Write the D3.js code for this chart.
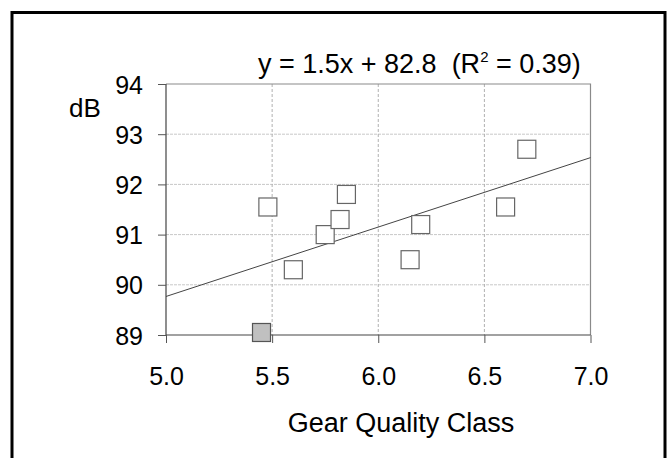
<!DOCTYPE html>
<html>
<head>
<meta charset="utf-8">
<script src="https://cdn.jsdelivr.net/npm/d3@7"></script>
<style>
  body { margin: 0; background: #fff; }
  text { font-family: "Liberation Sans", Arial, sans-serif; fill: #000; }
</style>
</head>
<body>
<div id="chart"></div>
<script>
// data
var gearClass = [5.48, 5.60, 5.75, 5.82, 5.85, 6.15, 6.20, 6.60, 6.70];
var noiseDb   = [91.55, 90.3, 91.0, 91.3, 91.8, 90.5, 91.2, 91.55, 92.7];
// the grey (highlighted) point
var greyClass = [5.45];
var greyDb    = [89.05];
var xTicks = [5.0, 5.5, 6.0, 6.5, 7.0];
var yTicks = [89, 90, 91, 92, 93, 94];
var fitLabel = "y = 1.5x + 82.8  (R";
var fitLabel2 = " = 0.39)";

var width = 670, height = 458;
var plot = { left: 166, right: 590.5, top: 84, bottom: 335 };

var svg = d3.select("#chart").append("svg")
    .attr("width", width)
    .attr("height", height);

// outer frame
svg.append("rect")
    .attr("x", 12).attr("y", 12.5)
    .attr("width", 653).attr("height", 452)
    .attr("fill", "none")
    .attr("stroke", "#000")
    .attr("stroke-width", 3);

var x = d3.scaleLinear().domain([5, 7]).range([plot.left, plot.right]);
var y = d3.scaleLinear().domain([89, 94]).range([plot.bottom, plot.top]);

// gridlines
svg.append("g").selectAll("line")
    .data(yTicks.filter(function(d) { return d > 89 && d < 94; }))
  .enter().append("line")
    .attr("x1", plot.left).attr("x2", plot.right)
    .attr("y1", function(d) { return y(d); })
    .attr("y2", function(d) { return y(d); })
    .attr("stroke", "#c8c8c8")
    .attr("stroke-dasharray", "3,1");

svg.append("g").selectAll("line")
    .data(xTicks.filter(function(d) { return d > 5 && d < 7; }))
  .enter().append("line")
    .attr("x1", function(d) { return x(d); })
    .attr("x2", function(d) { return x(d); })
    .attr("y1", plot.top).attr("y2", plot.bottom)
    .attr("stroke", "#b0b0b0")
    .attr("stroke-dasharray", "3,2");

// plot area border (top + right)
svg.append("path")
    .attr("d", "M" + plot.left + "," + plot.top + "H" + plot.right + "V" + plot.bottom)
    .attr("fill", "none")
    .attr("stroke", "#8a8a8a")
    .attr("stroke-width", 1.2);

// axes
var yAxis = d3.axisLeft(y).tickValues(yTicks).tickSize(8).tickPadding(15)
    .tickFormat(d3.format("d"));
var xAxis = d3.axisBottom(x).tickValues(xTicks).tickSize(8).tickPadding(24)
    .tickFormat(d3.format(".1f"));

var gy = svg.append("g")
    .attr("transform", "translate(" + plot.left + ",0)")
    .call(yAxis);
var gx = svg.append("g")
    .attr("transform", "translate(0," + plot.bottom + ")")
    .call(xAxis);

[gx, gy].forEach(function(g) {
    g.select(".domain").attr("stroke", "#444").attr("stroke-width", 1.2);
    g.selectAll(".tick line").attr("stroke", "#555");
    g.selectAll(".tick text")
        .style("font-size", "25px")
        .attr("fill", "#000");
});
gy.select(".domain").attr("d", "M0," + plot.top + "V" + plot.bottom);
gx.select(".domain").attr("d", "M" + plot.left + ",0H" + plot.right);
gy.selectAll(".tick text").attr("dy", "0.36em");

// least squares fit through all points
var allX = gearClass.concat(greyClass), allY = noiseDb.concat(greyDb);
var mx = d3.mean(allX), my = d3.mean(allY);
var sxy = d3.sum(allX, function(d, i) { return (d - mx) * (allY[i] - my); });
var sxx = d3.sum(allX, function(d) { return (d - mx) * (d - mx); });
var slope = sxy / sxx, intercept = my - slope * mx;

svg.append("line")
    .attr("x1", x(5)).attr("y1", y(intercept + slope * 5))
    .attr("x2", x(7)).attr("y2", y(intercept + slope * 7))
    .attr("stroke", "#444")
    .attr("stroke-width", 1);

// markers
var size = 18;
svg.append("g").selectAll("rect")
    .data(gearClass)
  .enter().append("rect")
    .attr("x", function(d) { return x(d) - size / 2; })
    .attr("y", function(d, i) { return y(noiseDb[i]) - size / 2; })
    .attr("width", size).attr("height", size)
    .attr("fill", "#fff")
    .attr("stroke", "#666")
    .attr("stroke-width", 1.2);

svg.append("g").selectAll("rect")
    .data(greyClass)
  .enter().append("rect")
    .attr("x", function(d) { return x(d) - size / 2; })
    .attr("y", function(d, i) { return y(greyDb[i]) - size / 2; })
    .attr("width", size).attr("height", size)
    .attr("fill", "#c0c0c0")
    .attr("stroke", "#555")
    .attr("stroke-width", 1.2);

// texts
var t = svg.append("text")
    .attr("x", 258).attr("y", 73)
    .attr("xml:space", "preserve")
    .style("white-space", "pre")
    .style("font-size", "27px");
t.append("tspan").text(fitLabel);
t.append("tspan").attr("dy", -11).style("font-size", "15px").text("2");
t.append("tspan").attr("dy", 11).text(fitLabel2);

svg.append("text")
    .attr("x", 69).attr("y", 117)
    .style("font-size", "26px")
    .text("dB");

svg.append("text")
    .attr("x", 401).attr("y", 432)
    .attr("text-anchor", "middle")
    .style("font-size", "27px")
    .text("Gear Quality Class");
</script>
</body>
</html>
